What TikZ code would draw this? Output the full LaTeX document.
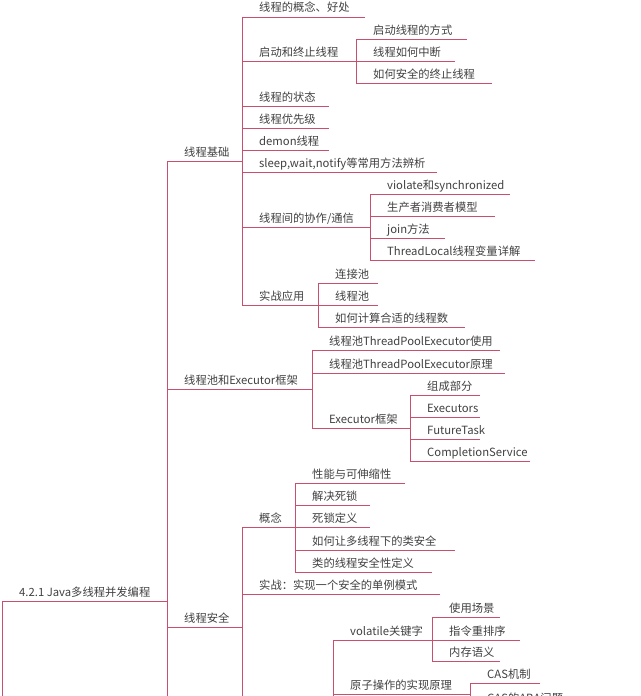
\documentclass[tikz,border=0pt]{standalone}
\usepackage{fontspec}
\setmainfont{Open Sans}
\newfontfamily\cjk{Noto Sans CJK SC}
\begin{document}
\begin{tikzpicture}[x=1pt,y=-1pt,
  lbl/.style={inner sep=0pt,anchor=base west,font=\cjk\fontsize{11.3}{13}\selectfont,text=black!75},
  ln/.style={draw={rgb,255:red,200;green,80;blue,110},line width=1pt}]
\useasboundingbox (0,0) rectangle (640,696);
\newcommand\br[5]{\node[lbl] (#5) at (#1+17,#2-5) {#4};\draw[ln] (#1,#2) -- (#3,#2);}
% root
\br{2}{601}{167}{4.2.1 Java多线程并发编程}{root}
\draw[ln] (2,601) -- (2,696);
\draw[ln] (167,161) -- (167,696);
% level 1
\br{167}{161}{242}{线程基础}{jc}
\br{167}{389}{312}{线程池和Executor框架}{pool}
\br{167}{627}{242}{线程安全}{safe}
% 线程基础
\draw[ln] (242,17) -- (242,305);
\br{242}{17}{365}{线程的概念、好处}{a1}
\br{242}{61}{356}{启动和终止线程}{a2}
\draw[ln] (356,39) -- (356,83);
\br{356}{39}{467}{启动线程的方式}{a21}
\br{356}{61}{455}{线程如何中断}{a22}
\br{356}{83}{492}{如何安全的终止线程}{a23}
\br{242}{106}{329}{线程的状态}{a3}
\br{242}{128}{329}{线程优先级}{a4}
\br{242}{150}{329}{demon线程}{a5}
\br{242}{172}{437}{sleep,wait,notify等常用方法辨析}{a6}
\br{242}{227}{370}{线程间的协作/通信}{a7}
\draw[ln] (370,194) -- (370,260);
\br{370}{194}{510}{violate和synchronized}{a71}
\br{370}{216}{495}{生产者消费者模型}{a72}
\br{370}{238}{445}{join方法}{a73}
\br{370}{260}{535}{ThreadLocal线程变量详解}{a74}
\br{242}{305}{318}{实战应用}{a8}
\draw[ln] (318,283) -- (318,327);
\br{318}{283}{378}{连接池}{a81}
\br{318}{305}{378}{线程池}{a82}
\br{318}{327}{465}{如何计算合适的线程数}{a83}
% 线程池
\draw[ln] (312,350) -- (312,428);
\br{312}{350}{500}{线程池ThreadPoolExecutor使用}{b1}
\br{312}{373}{505}{线程池ThreadPoolExecutor原理}{b2}
\br{312}{428}{410}{Executor框架}{b3}
\draw[ln] (410,395) -- (410,461);
\br{410}{395}{480}{组成部分}{b31}
\br{410}{417}{480}{Executors}{b32}
\br{410}{439}{480}{FutureTask}{b33}
\br{410}{461}{530}{CompletionService}{b34}
% 线程安全
\draw[ln] (242,527) -- (242,696);
\br{242}{527}{295}{概念}{c1}
\draw[ln] (295,483) -- (295,572);
\br{295}{483}{405}{性能与可伸缩性}{c11}
\br{295}{505}{370}{解决死锁}{c12}
\br{295}{527}{370}{死锁定义}{c13}
\br{295}{550}{455}{如何让多线程下的类安全}{c14}
\br{295}{572}{432}{类的线程安全性定义}{c15}
\br{242}{594}{440}{实战：实现一个安全的单例模式}{c2}
\draw[ln] (333,640) -- (333,696);
\br{333}{640}{432}{volatile关键字}{c3}
\draw[ln] (432,617) -- (432,661);
\br{432}{617}{500}{使用场景}{c31}
\br{432}{640}{520}{指令重排序}{c32}
\br{432}{661}{500}{内存语义}{c33}
\br{333}{694}{470}{原子操作的实现原理}{c4}
\draw[ln] (470,683) -- (470,696);
\br{470}{683}{540}{CAS机制}{c41}
\node[lbl] (c42) at (487,702) {CAS的ABA问题};
\end{tikzpicture}
\end{document}
